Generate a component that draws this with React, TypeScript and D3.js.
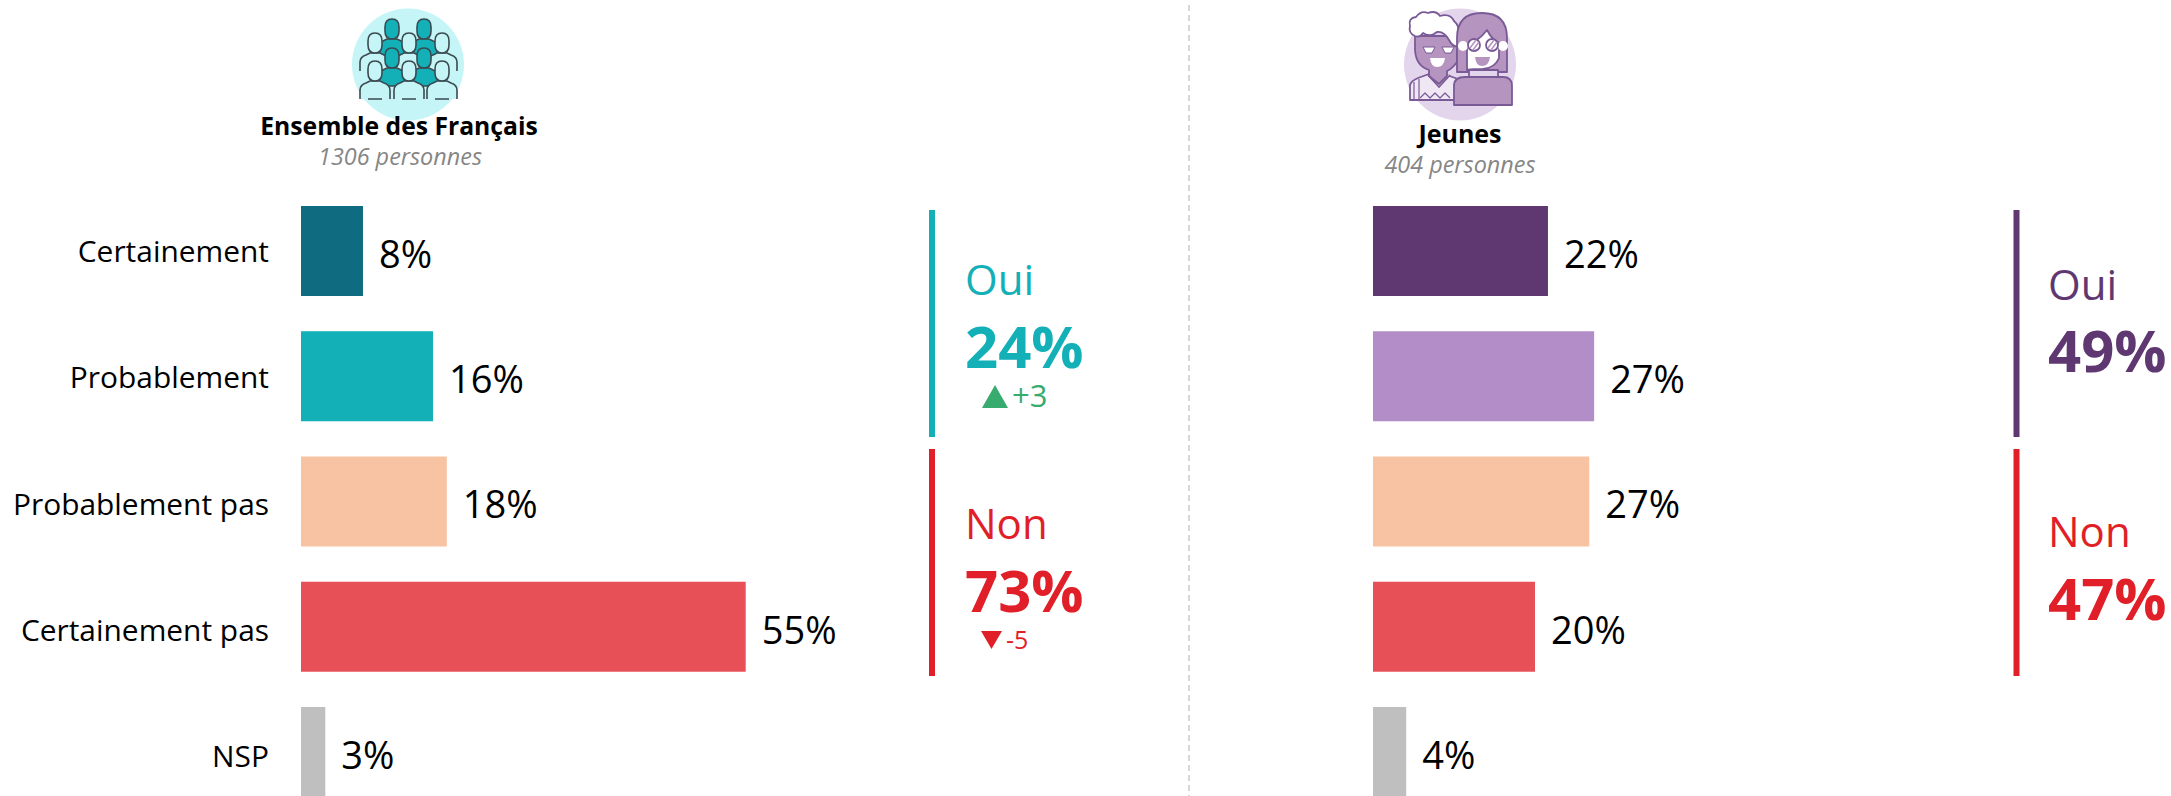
import React from "react";
import * as d3 from "d3";

const W = 2171, H = 796;
const FONT = "'Open Sans', 'Noto Sans', sans-serif";

const categories = ["Certainement", "Probablement", "Probablement pas", "Certainement pas", "NSP"];
const allValues = [7.65, 16.3, 18.0, 54.9, 3.0];
const youngValues = [21.6, 27.3, 26.7, 20.0, 4.1];
const allColors = ["#0f6b80", "#13b0b8", "#f7c3a3", "#e85058", "#bfbfbf"];
const youngColors = ["#5f3771", "#b28dc8", "#f7c3a3", "#e85058", "#bfbfbf"];

const x = d3.scaleLinear().domain([0, 100]).range([0, 810]);
const y = d3.scaleBand<string>().domain(categories).range([206, 797]).paddingInner(0.2814).paddingOuter(0);
const labelY = d3.scalePoint<string>().domain(categories).range([262, 767]);

function Bars({ x0, values, colors }: { x0: number; values: number[]; colors: string[] }) {
  return (
    <g>
      {categories.map((c, i) => (
        <g key={c}>
          <rect x={x0} y={y(c)} width={x(values[i])} height={y.bandwidth()} fill={colors[i]} />
          <text x={x0 + x(values[i]) + 16} y={(y(c) as number) + 62} fontSize={38} fill="#000">
            {d3.format(".0f")(values[i])}%
          </text>
        </g>
      ))}
    </g>
  );
}

function Person({ px, py, fill }: { px: number; py: number; fill: string }) {
  return (
    <g transform={`translate(${px},${py})`} stroke="#3a4a50" strokeWidth={1.6}>
      <path d="M-15,38 V29 Q-15,24 -9,22 L-5,20 H5 L9,22 Q15,24 15,29 V38 Z" fill={fill} stroke="none" />
      <path d="M-15,38 V29 Q-15,24 -9,22 L-5,20 H5 L9,22 Q15,24 15,29 V38 M-7,38 H7" fill="none" />
      <path d="M-7,8 Q-7,0 0,0 Q7,0 7,8 V12 Q7,20 0,20 Q-7,20 -7,12 Z" fill={fill} />
    </g>
  );
}

function CrowdIcon() {
  const light = "#c5f5f7", teal = "#13b0b8";
  return (
    <g>
      <circle cx={408} cy={64.5} r={56} fill={light} />
      {[392, 424].map((px) => <Person key={px} px={px} py={19} fill={teal} />)}
      {[375, 409, 442].map((px) => <Person key={px} px={px} py={33} fill={light} />)}
      {[392, 424].map((px) => <Person key={px} px={px} py={48} fill={teal} />)}
      {[375, 409, 442].map((px) => <Person key={px} px={px} py={61} fill={light} />)}
    </g>
  );
}

function YouthIcon() {
  const s = "#7a5a96", p = "#b594c0";
  return (
    <g stroke={s} strokeWidth={1.8} strokeLinejoin="round">
      <circle cx={1460} cy={64.5} r={56} fill="#e3d5ec" stroke="none" />
      {/* left person */}
      <path d="M1410,100 V85 Q1411,81 1418,78 L1429,74 H1444 L1458,79 V100 Z" fill="#efe7f4" />
      <path d="M1428,75 L1439,87 L1450,75" fill="#fff" />
      <path d="M1419,79 V100 M1414,82 V100" fill="none" strokeWidth={1.2} />
      <path d="M1420,98 L1425,93 L1430,98 L1435,93 L1440,98 L1445,93 L1450,98" fill="none" strokeWidth={1.2} />
      <path d="M1429,76 V70 Q1416,66 1415,50 V36 H1457 V62 Q1452,69 1447,71 V76 L1439,84 Z" fill={p} />
      <path d="M1415,36 Q1408,33 1410,26 Q1408,18 1416,17 Q1421,10 1428,13 Q1436,10 1440,16 Q1450,13 1454,21 Q1460,26 1458,33 L1458,47 Q1452,46 1449,40 Q1444,31 1437,32 Q1430,38 1423,33 Q1420,38 1415,36 Z" fill="#fff" />
      <path d="M1423,47 H1435 L1432,53 H1426 Z M1442,47 H1454 L1451,53 H1445 Z" fill="#fff" strokeWidth={1} />
      <path d="M1430,58 H1445 Q1444,67 1437,67 Q1431,67 1430,58 Z" fill="#fff" stroke="none" />
      {/* right person */}
      <path d="M1457,72 V38 Q1457,13 1482,13 Q1507,13 1507,38 V72 Z" fill={p} />
      <path d="M1467,70 V44 Q1478,42 1487,30 Q1492,40 1499,43 V58 Q1495,68 1483,69 Q1473,69 1467,70 Z" fill="#fff" />
      <circle cx={1463} cy={46} r={5} fill="#fff" stroke="none" />
      <circle cx={1503} cy={46} r={5} fill="#fff" stroke="none" />
      <circle cx={1474} cy={45} r={6} fill="#fff" />
      <circle cx={1492} cy={45} r={6} fill="#fff" />
      <path d="M1470,48 L1476,40 M1473,50 L1479,42 M1488,48 L1494,40 M1491,50 L1497,42" stroke={p} strokeWidth={1.6} fill="none" />
      <path d="M1475,57 H1490 Q1489,66 1482,66 Q1476,66 1475,57 Z" fill={p} stroke="none" />
      <path d="M1469,70 H1498 V78 H1469 Z" fill="#e3d5ec" />
      <path d="M1454,105 V86 Q1454,77 1465,77 H1503 Q1512,77 1512,86 V105 Z" fill={p} />
    </g>
  );
}

function Summary({ lx, tx, color, label, value, baseLabel, baseValue, y0, y1 }: any) {
  return (
    <g fill={color}>
      <rect x={lx} y={y0} width={6} height={y1 - y0} />
      <text x={tx} y={baseLabel} fontSize={42}>{label}</text>
      <text x={tx} y={baseValue} fontSize={58} fontWeight={700}>{value}</text>
    </g>
  );
}

export default function App() {
  return (
    <svg width={W} height={H} viewBox={`0 0 ${W} ${H}`} fontFamily={FONT}
      style={{ position: "absolute", left: 0, top: 0, display: "block", background: "#fff" }}>
      <line x1={1189} x2={1189} y1={5} y2={796} stroke="#cccccc" strokeWidth={1.6} strokeDasharray="6 4" />

      <CrowdIcon />
      <text x={399} y={135} textAnchor="middle" fontSize={24.7} fontWeight={700} fill="#000">Ensemble des Français</text>
      <text x={400} y={165} textAnchor="middle" fontSize={23.4} fontStyle="italic" fill="#868686">1306 personnes</text>

      <YouthIcon />
      <text x={1460} y={143} textAnchor="middle" fontSize={25} fontWeight={700} fill="#000">Jeunes</text>
      <text x={1460} y={173} textAnchor="middle" fontSize={23.4} fontStyle="italic" fill="#868686">404 personnes</text>

      {categories.map((c) => (
        <text key={c} x={269} y={labelY(c)} textAnchor="end" fontSize={29.9} fill="#000">{c}</text>
      ))}

      <Bars x0={301} values={allValues} colors={allColors} />
      <Bars x0={1373} values={youngValues} colors={youngColors} />

      <Summary lx={929} tx={965} color="#13b0b8" label="Oui" value="24%" baseLabel={295} baseValue={368} y0={210} y1={437} />
      <Summary lx={929} tx={965} color="#e01f28" label="Non" value="73%" baseLabel={539} baseValue={612} y0={449} y1={676} />
      <path d={d3.line()([[982, 408], [1008, 408], [995, 385]]) + "Z"} fill="#38ab6e" />
      <text x={1012} y={407} fontSize={31} fill="#38ab6e">+3</text>
      <path d={d3.line()([[981, 631], [1002, 631], [991.5, 649]]) + "Z"} fill="#e01f28" />
      <text x={1006} y={649} fontSize={25} fill="#e01f28">-5</text>

      <Summary lx={2013.5} tx={2048} color="#5f3771" label="Oui" value="49%" baseLabel={300} baseValue={372} y0={210} y1={437} />
      <Summary lx={2013.5} tx={2048} color="#e01f28" label="Non" value="47%" baseLabel={547} baseValue={620} y0={449} y1={676} />
    </svg>
  );
}
